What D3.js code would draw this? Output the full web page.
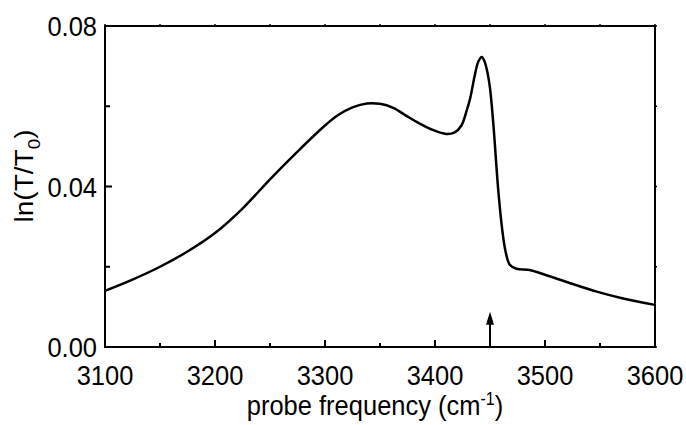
<!DOCTYPE html>
<html>
<head>
<meta charset="utf-8">
<script src="https://cdn.jsdelivr.net/npm/d3@7"></script>
<style>
  html, body { margin: 0; padding: 0; background: #fff; }
  svg { display: block; font-family: "Liberation Sans", Arial, sans-serif; }
</style>
</head>
<body>
<svg id="chart" width="686" height="425"></svg>
<script>
// Probe-frequency spectrum, ln(T/T0)
const frequency = [3100, 3125, 3150, 3175, 3200, 3225, 3250, 3275, 3300, 3312, 3325, 3338, 3350, 3362, 3374, 3386, 3398, 3410, 3418, 3424, 3429, 3432, 3436, 3439.5, 3442.5, 3445, 3448, 3450, 3453, 3457.5, 3461, 3464, 3468, 3474, 3486, 3500, 3523, 3547, 3571, 3600];
const lnT = [0.0140, 0.0168, 0.0200, 0.0238, 0.0284, 0.0345, 0.0418, 0.0487, 0.0552, 0.0578, 0.0597, 0.0607, 0.0606, 0.0596, 0.0576, 0.0557, 0.0541, 0.0531, 0.0535, 0.0552, 0.0591, 0.0620, 0.0675, 0.0712, 0.0723, 0.0712, 0.0680, 0.0645, 0.0557, 0.0391, 0.0295, 0.0240, 0.0205, 0.0195, 0.0192, 0.0180, 0.0159, 0.0138, 0.0121, 0.0105];
const xMajorTicks = [3100, 3200, 3300, 3400, 3500, 3600];
const xMinorTicks = [3150, 3250, 3350, 3450, 3550];
const yMajorTicks = [0.00, 0.04, 0.08];
const yMinorTicks = [0.02, 0.06];
const arrowFrequency = 3450;
const arrowTip = 0.0088;

const svg = d3.select("#chart");
const plotLeft = 105, plotRight = 655, plotTop = 26, plotBottom = 347;
const fontSize = 25.5;
const stretch = 1.1; // glyphs are drawn slightly taller than wide

const x = d3.scaleLinear().domain([3100, 3600]).range([plotLeft, plotRight]);
const y = d3.scaleLinear().domain([0, 0.08]).range([plotBottom, plotTop]);

const g = svg.append("g");

// bottom axis: inward ticks
g.selectAll(".xmaj").data(xMajorTicks).join("line")
  .attr("x1", d => x(d)).attr("x2", d => x(d))
  .attr("y1", plotBottom).attr("y2", plotBottom - 7)
  .attr("stroke", "#000").attr("stroke-width", 2);
g.selectAll(".xmin").data(xMinorTicks).join("line")
  .attr("x1", d => x(d)).attr("x2", d => x(d))
  .attr("y1", plotBottom).attr("y2", plotBottom - 4)
  .attr("stroke", "#000").attr("stroke-width", 2);
// top axis: small outward nubs
g.selectAll(".xtop").data(xMajorTicks.concat(xMinorTicks)).join("line")
  .attr("x1", d => x(d)).attr("x2", d => x(d))
  .attr("y1", plotTop).attr("y2", plotTop - 2)
  .attr("stroke", "#000").attr("stroke-width", 1.5);

// left axis: inward ticks
g.selectAll(".ymaj").data(yMajorTicks).join("line")
  .attr("x1", plotLeft).attr("x2", plotLeft + 7)
  .attr("y1", d => y(d)).attr("y2", d => y(d))
  .attr("stroke", "#000").attr("stroke-width", 2);
g.selectAll(".ymin").data(yMinorTicks).join("line")
  .attr("x1", plotLeft).attr("x2", plotLeft + 5)
  .attr("y1", d => y(d)).attr("y2", d => y(d))
  .attr("stroke", "#000").attr("stroke-width", 2);
// right axis: small outward nubs
g.selectAll(".yright").data(yMajorTicks.concat(yMinorTicks)).join("line")
  .attr("x1", plotRight).attr("x2", plotRight + 2)
  .attr("y1", d => y(d)).attr("y2", d => y(d))
  .attr("stroke", "#000").attr("stroke-width", 1.5);

// frame
g.append("rect")
  .attr("x", plotLeft).attr("y", plotTop)
  .attr("width", plotRight - plotLeft).attr("height", plotBottom - plotTop)
  .attr("fill", "none").attr("stroke", "#000").attr("stroke-width", 2);

// tick labels
g.selectAll(".xl").data(xMajorTicks).join("text")
  .attr("transform", d => `translate(${x(d)},${plotBottom + 38}) scale(1,${stretch})`)
  .attr("text-anchor", "middle")
  .attr("font-size", fontSize)
  .text(d => d);
g.selectAll(".yl").data(yMajorTicks).join("text")
  .attr("transform", d => `translate(${plotLeft - 8},${y(d) + 10}) scale(1,${stretch})`)
  .attr("text-anchor", "end")
  .attr("font-size", fontSize)
  .text(d => d3.format(".2f")(d));

// axis titles
const xt = svg.append("text")
  .attr("transform", `translate(${(plotLeft + plotRight) / 2 - 5},415) scale(1,${stretch})`)
  .attr("text-anchor", "middle")
  .attr("font-size", fontSize);
xt.append("tspan").text("probe frequency (cm");
xt.append("tspan").attr("font-size", 16).attr("dy", -9).text("-1");
xt.append("tspan").attr("dy", 9).text(")");

const yt = svg.append("text")
  .attr("transform", `translate(33,176) rotate(-90) scale(${stretch},1)`)
  .attr("text-anchor", "middle")
  .attr("font-size", fontSize);
yt.append("tspan").text("ln(T/T");
yt.append("tspan").attr("font-size", 17).attr("dy", 7).text("0");
yt.append("tspan").attr("dy", -7).text(")");

// spectrum
const line = d3.line()
  .x((d, i) => x(frequency[i]))
  .y(d => y(d))
  .curve(d3.curveCatmullRom.alpha(0.5));
svg.append("path")
  .datum(lnT)
  .attr("d", line)
  .attr("fill", "none")
  .attr("stroke", "#000")
  .attr("stroke-width", 2.5)
  .attr("stroke-linejoin", "round");

// arrow marking the probe position
const ax = x(arrowFrequency);
svg.append("line")
  .attr("x1", ax).attr("x2", ax)
  .attr("y1", plotBottom).attr("y2", y(arrowTip) + 10)
  .attr("stroke", "#000").attr("stroke-width", 2);
svg.append("path")
  .attr("d", `M${ax},${y(arrowTip)} L${ax - 4},${y(arrowTip) + 13} L${ax + 4},${y(arrowTip) + 13} Z`)
  .attr("fill", "#000");
</script>
</body>
</html>
